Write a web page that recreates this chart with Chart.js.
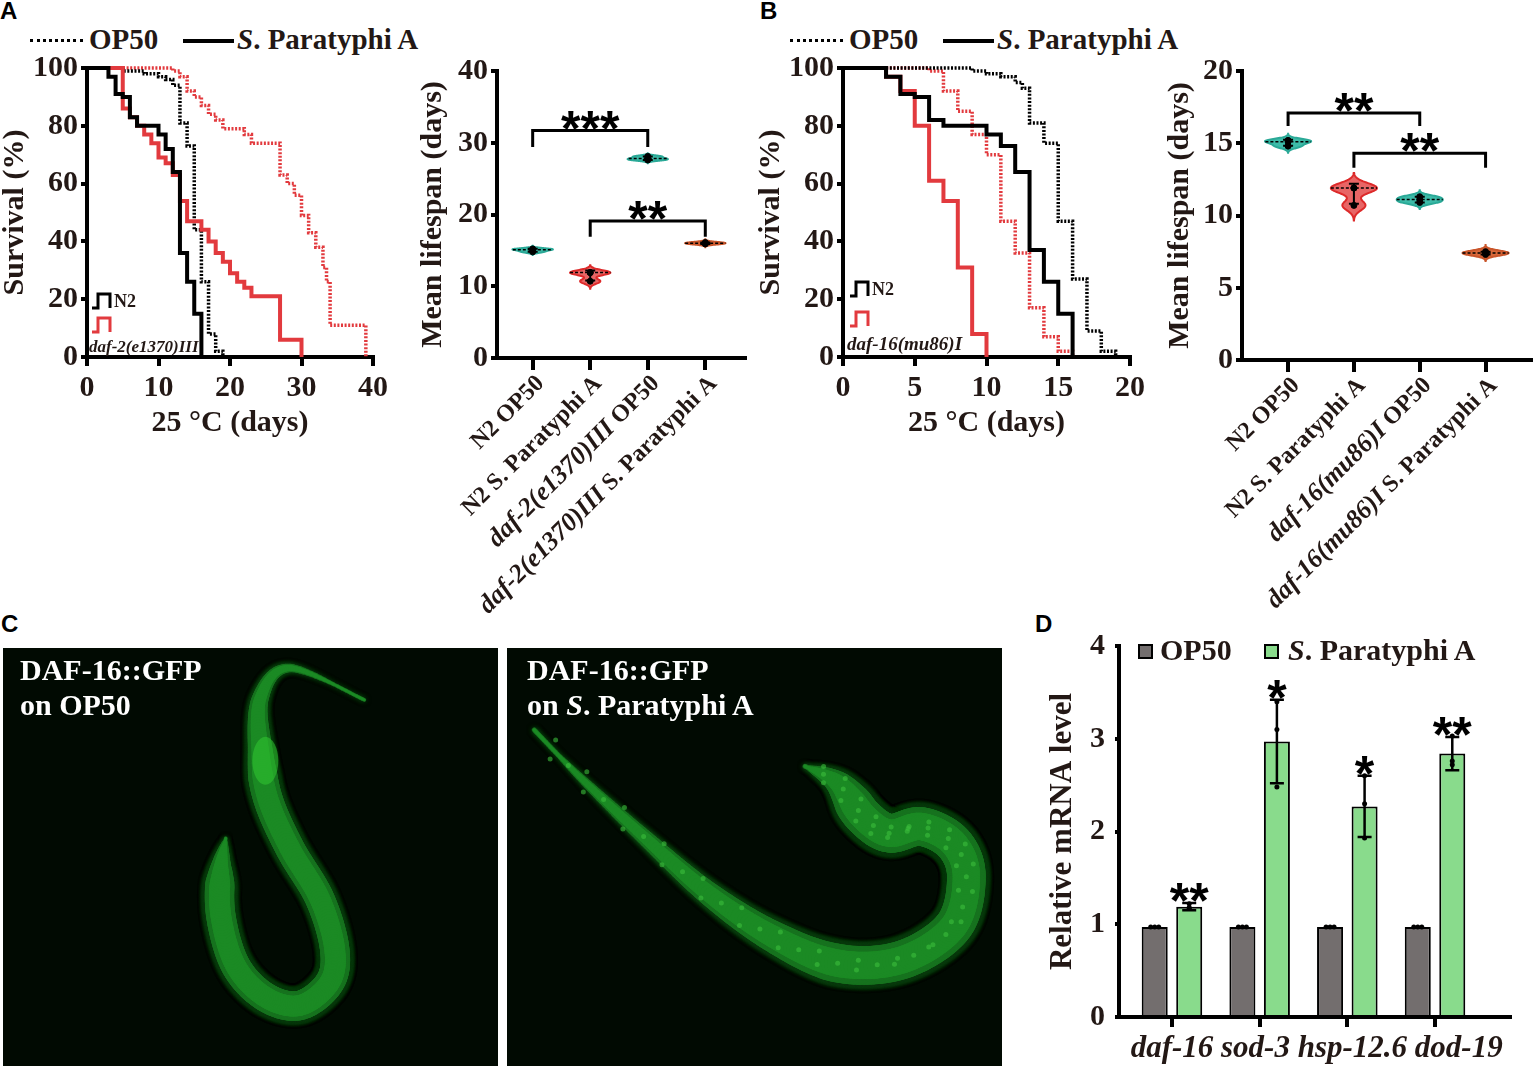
<!DOCTYPE html>
<html>
<head>
<meta charset="utf-8">
<script src="https://cdn.jsdelivr.net/npm/chart.js@4.4.1/dist/chart.umd.min.js"></script>
<style>
  body { margin: 0; width: 1536px; height: 1071px; background: #fff; position: relative; overflow: hidden; }
  canvas { position: absolute; }
  .letter { position: absolute; font: bold 24px "Liberation Sans", Arial, sans-serif; line-height: 24px; color: #000; }
  .leg { position: absolute; font: bold 29px "Liberation Serif", serif; line-height: 29px; color: #231815; white-space: nowrap; }
  .dline { position: absolute; height: 0; }
  .ctext { position: absolute; font: bold 30px "Liberation Serif", serif; line-height: 30px; color: #fff; white-space: nowrap; }
  .sq { position: absolute; width: 15px; height: 15px; box-sizing: border-box; border: 2px solid #000; }
</style>
</head>
<body>
<div class="letter" style="left:0;top:-1px">A</div>
<div class="letter" style="left:760px;top:-1px">B</div>
<div class="letter" style="left:1px;top:612px">C</div>
<div class="letter" style="left:1035px;top:612px">D</div>

<div class="dline" style="left:30px;top:39px;width:53px;border-top:3px dotted #000"></div>
<div class="leg" style="left:89px;top:25px">OP50</div>
<div class="dline" style="left:183px;top:39px;width:51px;border-top:4px solid #000"></div>
<div class="leg" style="left:237px;top:25px"><i>S</i>. Paratyphi A</div>

<div class="dline" style="left:790px;top:39px;width:53px;border-top:3px dotted #000"></div>
<div class="leg" style="left:849px;top:25px">OP50</div>
<div class="dline" style="left:943px;top:39px;width:51px;border-top:4px solid #000"></div>
<div class="leg" style="left:997px;top:25px"><i>S</i>. Paratyphi A</div>

<canvas id="sA" width="400" height="430" style="left:0;top:20px"></canvas>
<canvas id="vA" width="350" height="570" style="left:400px;top:50px"></canvas>
<canvas id="sB" width="400" height="430" style="left:756px;top:20px"></canvas>
<canvas id="vB" width="376" height="570" style="left:1160px;top:50px"></canvas>

<canvas id="cL" width="495" height="418" style="left:3px;top:648px"></canvas>
<canvas id="cR" width="495" height="418" style="left:507px;top:648px"></canvas>
<div class="ctext" style="left:20px;top:655px">DAF-16::GFP</div>
<div class="ctext" style="left:20px;top:690px">on OP50</div>
<div class="ctext" style="left:527px;top:655px">DAF-16::GFP</div>
<div class="ctext" style="left:527px;top:690px">on <i>S</i>. Paratyphi A</div>

<canvas id="d" width="496" height="471" style="left:1040px;top:600px"></canvas>
<div class="sq" style="left:1138px;top:644px;background:#736e6e"></div>
<div class="leg" style="left:1160px;top:635px;font-size:30px;line-height:30px">OP50</div>
<div class="sq" style="left:1264px;top:644px;background:#89db8c"></div>
<div class="leg" style="left:1288px;top:635px;font-size:30px;line-height:30px"><i>S</i>. Paratyphi A</div>

<script>
// ---- survival curves, [day, % alive] ----
const a_n2_op50 = [[0,100],[5,99],[8,98],[10,97],[11,96],[12,94],[13,81],[14,73],[15,44],[16,26],[17,8],[18,2],[19,0]];
const a_n2_spa = [[0,100],[3,97],[4,91],[5,90],[6,83],[7,80],[10,77],[11,72],[12,64],[13,36],[14,26],[15,15],[16,0]];
const a_daf2_op50 = [[0,100],[12,99],[13,97],[14,92],[15,90],[16,87],[17,84],[18,82],[19,79],[22,77],[23,74],[27,63],[28,60],[29,56],[30,49],[31,43],[32,38],[33,31],[33.5,26],[34,11],[39,0]];
const a_daf2_spa = [[0,100],[5,86],[6,83],[7,80],[8,77],[9,74],[10,69],[11,67],[12,63],[13,54],[14,47],[16,44],[17,40],[18,36],[19,33],[20,29],[21,26],[22,24],[23,21],[27,6],[30,0]];

const b_n2_op50 = [[0,100],[9,99],[10,98],[11,97],[12,95],[12.5,93],[13,81],[14,74],[15,47],[16,27],[17,9],[18,2],[19,0]];
const b_n2_spa = [[0,100],[3,97],[4,91],[5,90],[6,82],[7,80],[10,77],[11,73],[12,64],[13,37],[14,26],[15,15],[16,0]];
const b_daf16_op50 = [[0,100],[6,99],[7,92],[8,85],[9,77],[10,70],[11,47],[12,36],[13,17],[14,7],[15,2],[16,0]];
const b_daf16_spa = [[0,100],[3,97],[4,92],[5,80],[6,61],[7,54],[8,31],[9,8],[10,0]];

// ---- mean lifespan replicates (days) ----
const catsA = ['N2 OP50', 'N2 S. Paratyphi A', 'daf-2(e1370)III OP50', 'daf-2(e1370)III S. Paratyphi A'];
const lifespanA = [[14.8, 15.1, 15.2], [11.9, 11.9, 10.7], [27.6, 27.8, 28.1], [15.9, 16.0, 16.1]];
const catsB = ['N2 OP50', 'N2 S. Paratyphi A', 'daf-16(mu86)I OP50', 'daf-16(mu86)I S. Paratyphi A'];
const lifespanB = [[14.8, 15.1, 15.2], [11.9, 11.9, 10.7], [10.9, 11.1, 11.3], [7.3, 7.4, 7.5]];
// [group a, group b, bracket top, leg end, label]
const sigA = [[1, 3, 31.7, 29.4, '***'], [2, 4, 19.1, 16.9, '**']];
const sigB = [[1, 3, 17.1, 16.2, '**'], [2, 4, 14.3, 13.3, '**']];

// ---- qPCR ----
const genes = ['daf-16', 'sod-3', 'hsp-12.6', 'dod-19'];
const op50Mean = [0.97, 0.97, 0.97, 0.97];
const op50Pts = [[0.97, 0.97, 0.97], [0.97, 0.97, 0.97], [0.97, 0.97, 0.97], [0.97, 0.97, 0.97]];
const spaMean = [1.19, 2.97, 2.27, 2.84];
const spaSd = [0.04, 0.45, 0.33, 0.18];
const spaPts = [[1.22, 1.18, 1.17], [3.40, 3.10, 2.48], [2.60, 2.30, 1.93], [3.03, 2.76, 2.72]];
const spaStars = ['**', '*', '*', '**'];

const SERIF = '"Liberation Serif", "Times New Roman", serif';
const INK = '#231815';
Chart.defaults.font.family = SERIF;
Chart.defaults.color = INK;

function axisOpts(extra) {
  return Object.assign({
    grid: { drawOnChartArea: false, color: '#000', lineWidth: 4, tickLength: 8 },
    border: { color: '#000', width: 4 }
  }, extra);
}

function stepIcon(ctx, x, yt, yb, color) {
  ctx.strokeStyle = color;
  ctx.lineWidth = 3;
  ctx.beginPath();
  ctx.moveTo(x, yb); ctx.lineTo(x + 6, yb); ctx.lineTo(x + 6, yt);
  ctx.lineTo(x + 18, yt); ctx.lineTo(x + 18, yb);
  ctx.stroke();
}

const miniLegend = {
  id: 'miniLegend',
  afterDraw(chart) {
    const o = chart.options.plugins.miniLegend;
    const { ctx, chartArea: { left, bottom } } = chart;
    ctx.save();
    stepIcon(ctx, left + o.dx, bottom + o.y1, bottom + o.y1 + 14, '#000');
    stepIcon(ctx, left + o.dx, bottom + o.y2, bottom + o.y2 + 14, '#e23a3e');
    ctx.fillStyle = INK;
    ctx.textBaseline = 'middle';
    ctx.font = 'bold 18px ' + SERIF;
    ctx.fillText('N2', left + o.dx + 22, bottom + o.y1 + 8);
    ctx.font = 'italic bold ' + o.size + 'px ' + SERIF;
    ctx.fillText(o.strain, left + o.dx - 3, bottom + o.y3);
    ctx.restore();
  }
};

function line(pts, color, dotted) {
  return {
    data: pts.map(p => ({ x: p[0], y: p[1] })),
    stepped: 'before', borderColor: color, borderWidth: dotted ? 3.5 : 4,
    borderDash: dotted ? [2, 1.6] : [], pointRadius: 0, fill: false, clip: false
  };
}

function survival(id, curves, xMax, xStep, yW, rightPad, legendOpts) {
  new Chart(document.getElementById(id), {
    type: 'line',
    data: { datasets: curves },
    options: {
      responsive: false, animation: false,
      layout: { padding: { top: 48, right: rightPad, left: 0, bottom: 0 } },
      plugins: { legend: { display: false }, tooltip: { enabled: false }, miniLegend: legendOpts },
      scales: {
        x: axisOpts({
          type: 'linear', min: 0, max: xMax,
          ticks: { stepSize: xStep, font: { size: 30, weight: 'bold' }, padding: 4, maxRotation: 0 },
          grid: { drawOnChartArea: false, color: '#000', lineWidth: 4, tickLength: 9 },
          title: { display: true, text: '25 °C (days)', font: { size: 30, weight: 'bold', lineHeight: 1 }, padding: { top: 0, bottom: 12 } },
          afterFit(s) { s.height = 93; }
        }),
        y: axisOpts({
          min: 0, max: 100,
          ticks: { stepSize: 20, font: { size: 30, weight: 'bold' }, padding: 3 },
          grid: { drawOnChartArea: false, color: '#000', lineWidth: 4, tickLength: 6 },
          title: { display: true, text: 'Survival (%)', font: { size: 30, weight: 'bold', lineHeight: 1 }, padding: { top: 0, bottom: 0 } },
          afterFit(s) { s.width = yW; }
        })
      }
    },
    plugins: [miniLegend]
  });
}

const RED = '#e23a3e';
survival('sA', [
  line(a_n2_spa, '#000', false), line(a_daf2_spa, RED, false),
  line(a_n2_op50, '#000', true), line(a_daf2_op50, RED, true)
], 40, 10, 87, 27, { dx: 5, y1: -63, y2: -39, y3: -9, strain: 'daf-2(e1370)III', size: 17 });

survival('sB', [
  line(b_n2_spa, '#000', false), line(b_daf16_spa, RED, false),
  line(b_n2_op50, '#000', true), line(b_daf16_op50, RED, true)
], 20, 5, 87, 26, { dx: 7, y1: -75, y2: -45, y3: -12, strain: 'daf-16(mu86)I', size: 19 });

// ---- violin plots ----
const violinPlugin = {
  id: 'violin',
  beforeDatasetsDraw(chart) {
    const o = chart.options.plugins.violin;
    const { ctx, scales: { x, y } } = chart;
    o.groups.forEach((vals, i) => {
      const n = vals.length;
      const mean = vals.reduce((a, b) => a + b, 0) / n;
      const sd = Math.sqrt(vals.reduce((a, b) => a + (b - mean) ** 2, 0) / (n - 1));
      const h = Math.max(0.15, 0.5 * sd);
      const lo = Math.min(...vals) - 3 * h, hi = Math.max(...vals) + 3 * h;
      const dens = [];
      for (let k = 0; k <= 80; k++) {
        const v = lo + (hi - lo) * k / 80;
        let d = 0;
        vals.forEach(u => { d += Math.exp(-0.5 * ((v - u) / h) ** 2); });
        dens.push([v, d]);
      }
      const dmax = Math.max(...dens.map(d => d[1]));
      const cx = x.getPixelForValue(i + 1);
      const half = x.getPixelForValue(1.35) - x.getPixelForValue(1);
      ctx.save();
      ctx.beginPath();
      dens.forEach(([v, d], k) => {
        const px = cx + half * d / dmax, py = y.getPixelForValue(v);
        if (k) ctx.lineTo(px, py); else ctx.moveTo(px, py);
      });
      for (let k = dens.length - 1; k >= 0; k--) {
        ctx.lineTo(cx - half * dens[k][1] / dmax, y.getPixelForValue(dens[k][0]));
      }
      ctx.closePath();
      ctx.fillStyle = o.fills[i];
      ctx.fill();
      ctx.lineWidth = 2;
      ctx.strokeStyle = o.colors[i];
      ctx.stroke();

      const sorted = [...vals].sort((a, b) => a - b);
      const med = sorted[Math.floor(n / 2)];
      let dm = 0;
      vals.forEach(u => { dm += Math.exp(-0.5 * ((med - u) / h) ** 2); });
      const hw = half * dm / dmax, my = y.getPixelForValue(med);
      ctx.setLineDash([3, 2]);
      ctx.strokeStyle = '#000';
      ctx.lineWidth = 1.5;
      ctx.beginPath(); ctx.moveTo(cx - hw, my); ctx.lineTo(cx + hw, my); ctx.stroke();
      ctx.setLineDash([]);

      const t = y.getPixelForValue(mean + sd), b = y.getPixelForValue(mean - sd);
      ctx.lineWidth = 2;
      ctx.beginPath();
      ctx.moveTo(cx, t); ctx.lineTo(cx, b);
      ctx.moveTo(cx - 5, t); ctx.lineTo(cx + 5, t);
      ctx.moveTo(cx - 5, b); ctx.lineTo(cx + 5, b);
      ctx.stroke();
      ctx.restore();
    });
  },
  afterDraw(chart) {
    const o = chart.options.plugins.violin;
    const { ctx, scales: { x, y } } = chart;
    ctx.save();
    // significance brackets
    o.sig.forEach(([a, b, top, leg, txt]) => {
      const xa = x.getPixelForValue(a), xb = x.getPixelForValue(b);
      const yt = y.getPixelForValue(top), yl = y.getPixelForValue(leg);
      ctx.strokeStyle = '#000';
      ctx.lineWidth = 3;
      ctx.beginPath();
      ctx.moveTo(xa, yl); ctx.lineTo(xa, yt); ctx.lineTo(xb, yt); ctx.lineTo(xb, yl);
      ctx.stroke();
      ctx.fillStyle = '#000';
      ctx.font = 'bold 50px "Liberation Sans", Arial, sans-serif';
      ctx.textAlign = 'center';
      ctx.textBaseline = 'alphabetic';
      ctx.fillText(txt, (xa + xb) / 2, yt - 13 + 28);
    });
    // rotated category labels, strain names in italics
    ctx.fillStyle = INK;
    ctx.textBaseline = 'middle';
    ctx.textAlign = 'left';
    o.cats.forEach((c, i) => {
      const m = c.match(/^(daf-\S+)(.*)$/);
      const parts = m ? [[m[1], true], [m[2], false]] : [[c, false]];
      const fontOf = p => (p[1] ? 'italic bold 26px ' : 'bold 24px ') + SERIF;
      let total = 0;
      parts.forEach(p => { ctx.font = fontOf(p); total += ctx.measureText(p[0]).width; });
      ctx.save();
      ctx.translate(x.getPixelForValue(i + 1) + 8, y.bottom + 22);
      ctx.rotate(-Math.PI / 4);
      let cx = -total;
      parts.forEach(p => {
        ctx.font = fontOf(p);
        ctx.fillText(p[0], cx, 0);
        cx += ctx.measureText(p[0]).width;
      });
      ctx.restore();
    });
    ctx.restore();
  }
};

const TEAL = '#2aa997', TEAL_F = '#3dbba8';
const VRED = '#dd2a2a', VRED_F = '#e86565';
const ORNG = '#c9552a', ORNG_F = '#d8683a';

function violin(id, cats, groups, sig, yMax, yStep, xMin, xMax, pad, yW, xH, titlePad, colors, fills) {
  new Chart(document.getElementById(id), {
    type: 'scatter',
    data: {
      datasets: groups.map((vals, i) => ({
        data: vals.map(v => ({ x: i + 1, y: v })),
        pointRadius: 3, pointBackgroundColor: '#000', pointBorderColor: '#000', showLine: false
      }))
    },
    options: {
      responsive: false, animation: false,
      layout: { padding: pad },
      plugins: { legend: { display: false }, tooltip: { enabled: false },
        violin: { groups, cats, sig, colors, fills } },
      scales: {
        x: axisOpts({
          type: 'linear', min: xMin, max: xMax,
          afterBuildTicks(s) { s.ticks = cats.map((c, i) => ({ value: i + 1 })); },
          ticks: { callback: () => '', font: { size: 10 } },
          grid: { drawOnChartArea: false, color: '#000', lineWidth: 4, tickLength: 12 },
          afterFit(s) { s.height = xH; }
        }),
        y: axisOpts({
          min: 0, max: yMax,
          ticks: { stepSize: yStep, font: { size: 30, weight: 'bold' }, padding: 3 },
          grid: { drawOnChartArea: false, color: '#000', lineWidth: 4, tickLength: 6 },
          title: { display: true, text: 'Mean lifespan (days)', font: { size: 30, weight: 'bold', lineHeight: 1 }, padding: { top: titlePad, bottom: 0 } },
          afterFit(s) { s.width = yW; }
        })
      }
    },
    plugins: [violinPlugin]
  });
}

violin('vA', catsA, lifespanA, sigA, 40, 10, 0.38, 4.69, { top: 16, right: 2, left: 0, bottom: 0 }, 97, 262, 18,
  [TEAL, VRED, TEAL, ORNG], [TEAL_F, VRED_F, TEAL_F, ORNG_F]);
violin('vB', catsB, lifespanB, sigB, 20, 5, 0.30, 4.69, { top: 20, right: 4, left: 0, bottom: 0 }, 82, 260, 5,
  [TEAL, VRED, TEAL, ORNG], [TEAL_F, VRED_F, TEAL_F, ORNG_F]);

// ---- qPCR bars ----
const errPlugin = {
  id: 'err',
  afterDatasetsDraw(chart) {
    const { ctx, scales: { y } } = chart;
    const sets = [[op50Pts, null, null], [spaPts, spaSd, spaStars]];
    ctx.save();
    sets.forEach(([pts, sd, stars], d) => {
      chart.getDatasetMeta(d).data.forEach((bar, i) => {
        const cx = bar.x;
        const mean = chart.data.datasets[d].data[i].y;
        ctx.strokeStyle = '#000';
        ctx.fillStyle = '#000';
        if (sd) {
          const t = y.getPixelForValue(mean + sd[i]), b = y.getPixelForValue(mean - sd[i]);
          ctx.lineWidth = 2.5;
          ctx.beginPath();
          ctx.moveTo(cx, t); ctx.lineTo(cx, b);
          ctx.moveTo(cx - 7, t); ctx.lineTo(cx + 7, t);
          ctx.moveTo(cx - 7, b); ctx.lineTo(cx + 7, b);
          ctx.stroke();
        }
        const same = pts[i].every(u => u === pts[i][0]);
        pts[i].forEach((v, k) => {
          ctx.beginPath();
          ctx.arc(cx + (same ? (k - 1) * 4 : 0), y.getPixelForValue(v), 2.5, 0, Math.PI * 2);
          ctx.fill();
        });
        if (stars) {
          ctx.font = 'bold 50px "Liberation Sans", Arial, sans-serif';
          ctx.textAlign = 'center';
          ctx.textBaseline = 'alphabetic';
          ctx.fillText(stars[i], cx, y.getPixelForValue(mean + sd[i] + 0.14) + 28);
        }
      });
    });
    ctx.restore();
  },
  afterDraw(chart) {
    // gene names set as one italic line, first name centred on the first tick
    const { ctx, scales: { x } } = chart;
    ctx.save();
    ctx.font = 'italic bold 31px ' + SERIF;
    ctx.fillStyle = INK;
    ctx.textBaseline = 'alphabetic';
    ctx.textAlign = 'left';
    const gap = ctx.measureText(' ').width;
    let cx = x.getPixelForValue(1) - ctx.measureText(genes[0]).width / 2;
    genes.forEach(g => {
      ctx.fillText(g, cx, x.top + 40);
      cx += ctx.measureText(g).width + gap;
    });
    ctx.restore();
  }
};

new Chart(document.getElementById('d'), {
  type: 'bar',
  data: {
    datasets: [
      { label: 'OP50', data: op50Mean.map((v, i) => ({ x: i + 1, y: v })), backgroundColor: '#736e6e',
        borderColor: '#000', borderWidth: 2, categoryPercentage: 0.787, barPercentage: 0.754 },
      { label: 'S. Paratyphi A', data: spaMean.map((v, i) => ({ x: i + 1, y: v })), backgroundColor: '#89db8c',
        borderColor: '#000', borderWidth: 2, categoryPercentage: 0.787, barPercentage: 0.754 }
    ]
  },
  options: {
    responsive: false, animation: false,
    layout: { padding: { top: 46, right: 26, left: 0, bottom: 0 } },
    plugins: { legend: { display: false }, tooltip: { enabled: false } },
    scales: {
      x: axisOpts({
        type: 'linear', min: 0.396, max: 4.855, offset: false,
        afterBuildTicks(s) { s.ticks = genes.map((g, i) => ({ value: i + 1 })); },
        ticks: { autoSkip: false, maxRotation: 0, minRotation: 0, callback: () => '', font: { size: 10 } },
        grid: { drawOnChartArea: false, offset: false, color: '#000', lineWidth: 4, tickLength: 10 },
        afterFit(s) { s.height = 54; }
      }),
      y: axisOpts({
        min: 0, max: 4,
        ticks: { stepSize: 1, font: { size: 30, weight: 'bold' }, padding: 10 },
        grid: { drawOnChartArea: false, color: '#000', lineWidth: 4, tickLength: 4 },
        title: { display: true, text: 'Relative mRNA level', font: { size: 31, weight: 'bold', lineHeight: 1 }, padding: { top: 7, bottom: 0 } },
        afterFit(s) { s.width = 79; }
      })
    }
  },
  plugins: [errPlugin]
});

// ---- panel C: fluorescence micrographs (drawn, not data) ----
const wormL = [[0.73,0.124],[0.58,0.048],[0.52,0.12],[0.52,0.25],[0.535,0.36],[0.58,0.48],[0.64,0.6],[0.67,0.72],[0.66,0.8],[0.6,0.855],[0.53,0.835],[0.47,0.76],[0.44,0.64],[0.44,0.53],[0.45,0.455]];
const wormR = [[0.055,0.196],[0.146,0.307],[0.276,0.451],[0.407,0.587],[0.537,0.69],[0.668,0.754],[0.798,0.746],[0.902,0.666],[0.928,0.547],[0.902,0.467],[0.837,0.427],[0.772,0.443],[0.72,0.403],[0.668,0.323],[0.602,0.283]];

function drawMicrograph(id, pts, maxW, headTaper, tailTaper, spots) {
  const cv = document.getElementById(id), ctx = cv.getContext('2d');
  const W = cv.width, H = cv.height;
  ctx.fillStyle = '#010a02';
  ctx.fillRect(0, 0, W, H);
  const P = pts.map(p => [p[0] * W, p[1] * H]);
  const S = [];
  for (let i = 0; i < P.length - 1; i++) {
    const p0 = P[Math.max(0, i - 1)], p1 = P[i], p2 = P[i + 1], p3 = P[Math.min(P.length - 1, i + 2)];
    for (let t = 0; t < 1; t += 0.05) {
      const t2 = t * t, t3 = t2 * t;
      const f = k => 0.5 * (2 * p1[k] + (-p0[k] + p2[k]) * t + (2 * p0[k] - 5 * p1[k] + 4 * p2[k] - p3[k]) * t2 + (-p0[k] + 3 * p1[k] - 3 * p2[k] + p3[k]) * t3);
      S.push([f(0), f(1)]);
    }
  }
  S.push(P[P.length - 1]);
  ctx.lineCap = 'round';
  const layers = [[1.05, '#0a3a0e', 5], [0.92, '#16721e', 0], [0.65, '#1b8a24', 0]];
  layers.forEach(([wf, col, blur]) => {
    ctx.strokeStyle = col;
    ctx.shadowColor = blur ? '#0a3a0e' : 'transparent';
    ctx.shadowBlur = blur;
    for (let i = 0; i < S.length - 1; i++) {
      const t = i / (S.length - 1);
      const taper = Math.max(0.12, Math.min(1, t / headTaper, (1 - t) / tailTaper));
      ctx.lineWidth = maxW * taper * wf;
      ctx.beginPath();
      ctx.moveTo(S[i][0], S[i][1]);
      ctx.lineTo(S[i + 1][0], S[i + 1][1]);
      ctx.stroke();
    }
  });
  ctx.shadowBlur = 0;
  if (spots) {
    ctx.fillStyle = 'rgba(60,190,60,0.6)';
    for (let i = 8; i < S.length - 8; i += 4) {
      const off = ((i % 3) - 1) * maxW * 0.18;
      ctx.beginPath();
      ctx.arc(S[i][0] + off, S[i][1] - off * 0.6, 2.5, 0, Math.PI * 2);
      ctx.fill();
    }
  } else {
    ctx.fillStyle = 'rgba(50,200,50,0.55)';
    ctx.beginPath();
    ctx.ellipse(0.53 * W, 0.27 * H, 13, 24, 0, 0, Math.PI * 2);
    ctx.fill();
  }
}
drawMicrograph('cL', wormL, 32, 0.25, 0.1, false);
drawMicrograph('cR', wormR, 42, 0.35, 0.12, true);
</script>
</body>
</html>
